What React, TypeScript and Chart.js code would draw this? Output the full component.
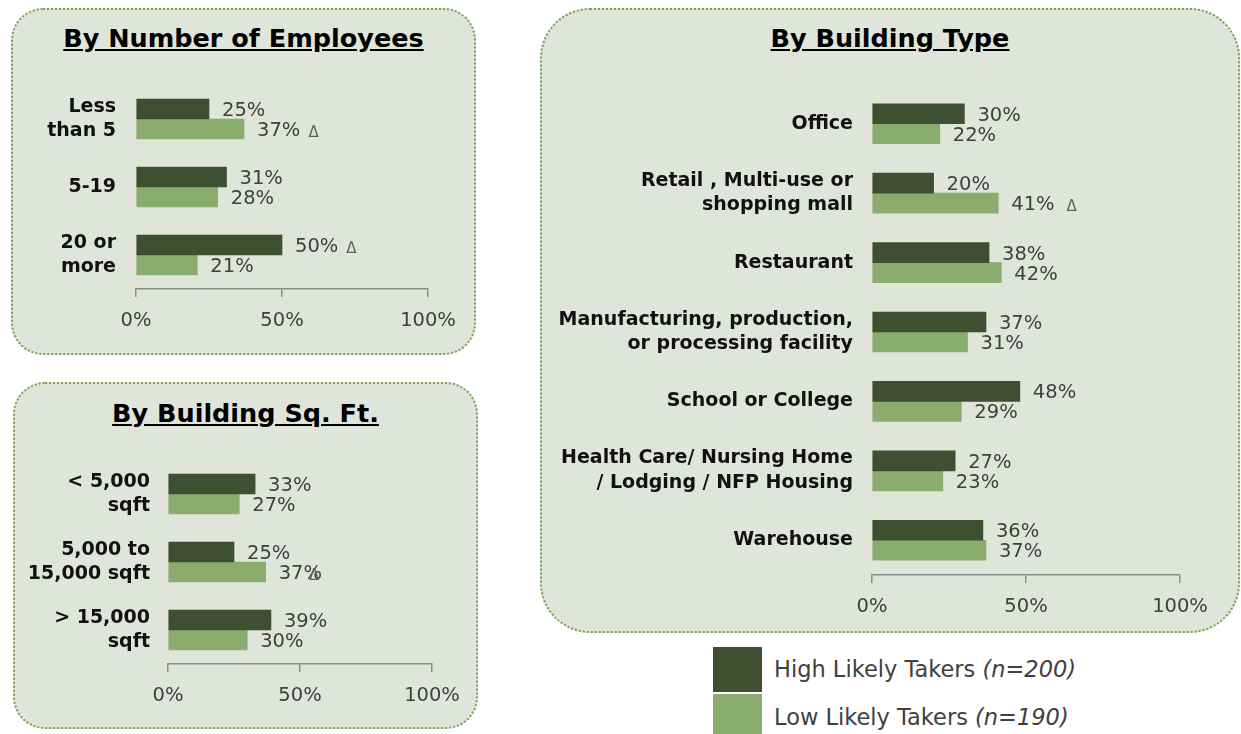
import React, { useEffect, useRef } from "react";
import { Chart, registerables } from "chart.js";

Chart.register(...registerables);

// ---------- DATA ----------
const seriesNames = ["High Likely Takers", "Low Likely Takers"];
const seriesNotes = ["(n=200)", "(n=190)"];
const xTicks = [0, 50, 100];

const employeeTitle = "By Number of Employees";
const employeeCategories = [["Less", "than 5"], ["5-19"], ["20 or", "more"]];
const employeeHigh = [25, 31, 50];
const employeeLow = [37, 28, 21];
const employeeHighDelta = [false, false, true];
const employeeLowDelta = [true, false, false];

const sqftTitle = "By Building Sq. Ft.";
const sqftCategories = [["< 5,000", "sqft"], ["5,000 to", "15,000 sqft"], ["> 15,000", "sqft"]];
const sqftHigh = [33, 25, 39];
const sqftLow = [27, 37, 30];
const sqftHighDelta = [false, false, false];
const sqftLowDelta = [false, true, false];

const buildingTitle = "By Building Type";
const buildingCategories = [
  ["Office"],
  ["Retail , Multi-use or", "shopping mall"],
  ["Restaurant"],
  ["Manufacturing, production,", "or processing facility"],
  ["School or College"],
  ["Health Care/ Nursing Home", "/ Lodging / NFP Housing"],
  ["Warehouse"],
];
const buildingHigh = [30, 20, 38, 37, 48, 27, 36];
const buildingLow = [22, 41, 42, 31, 29, 23, 37];
const buildingHighDelta = [false, false, false, false, false, false, false];
const buildingLowDelta = [false, true, false, false, false, false, false];

// ---------- STYLE ----------
const DARK = "#3f4f31";
const LIGHT = "#8aac6e";
const PANEL_BG = "#dfe6d9";
const PANEL_BORDER = "#79a152";
const TEXT_GRAY = "#404040";
const AXIS_GRAY = "#8c8c8c";
const FONT = "'DejaVu Sans', Verdana, sans-serif";

type Box = { left: number; top: number; width: number; height: number; radius: number };
type Area = { left: number; top: number; right: number; bottom: number };
type PanelSpec = {
  title: string;
  titleTop: number;
  box: Box;
  area: Area;
  categories: string[][];
  high: number[];
  low: number[];
  highDelta: boolean[];
  lowDelta: boolean[];
  labelGap: number;
  deltaGap: number;
};

const panels: PanelSpec[] = [
  {
    title: employeeTitle,
    titleTop: 23,
    box: { left: 11, top: 8, width: 465, height: 347, radius: 32 },
    area: { left: 136, top: 85, right: 428, bottom: 289 },
    categories: employeeCategories,
    high: employeeHigh,
    low: employeeLow,
    highDelta: employeeHighDelta,
    lowDelta: employeeLowDelta,
    labelGap: 20,
    deltaGap: 8,
  },
  {
    title: sqftTitle,
    titleTop: 398,
    box: { left: 13, top: 382, width: 465, height: 347, radius: 32 },
    area: { left: 168, top: 460, right: 432, bottom: 664 },
    categories: sqftCategories,
    high: sqftHigh,
    low: sqftLow,
    highDelta: sqftHighDelta,
    lowDelta: sqftLowDelta,
    labelGap: 18,
    deltaGap: -13,
  },
  {
    title: buildingTitle,
    titleTop: 23,
    box: { left: 540, top: 8, width: 700, height: 625, radius: 50 },
    area: { left: 872, top: 89, right: 1180, bottom: 575 },
    categories: buildingCategories,
    high: buildingHigh,
    low: buildingLow,
    highDelta: buildingHighDelta,
    lowDelta: buildingLowDelta,
    labelGap: 19,
    deltaGap: 12,
  },
];

const valueLabelPlugin = {
  id: "valueLabels",
  afterDatasetsDraw(chart: any, _args: any, opts: any) {
    const ctx = chart.ctx as CanvasRenderingContext2D;
    ctx.save();
    chart.data.datasets.forEach((ds: any, di: number) => {
      const meta = chart.getDatasetMeta(di);
      const flags: boolean[] = ds.deltaFlags || [];
      meta.data.forEach((bar: any, i: number) => {
        const text = ds.data[i] + "%";
        const x = bar.x + 13;
        const y = bar.y + 2;
        ctx.font = `19.5px ${FONT}`;
        ctx.fillStyle = TEXT_GRAY;
        ctx.textAlign = "left";
        ctx.textBaseline = "middle";
        ctx.fillText(text, x, y);
        if (flags[i]) {
          const w = ctx.measureText(text).width;
          ctx.font = `15px ${FONT}`;
          ctx.fillStyle = "#5f5f5f";
          ctx.fillText("\u0394", x + w + (opts.deltaGap || 0), y + 2);
        }
      });
    });
    ctx.restore();
  },
};

function PanelChart({ spec }: { spec: PanelSpec }) {
  const ref = useRef<HTMLCanvasElement>(null);
  useEffect(() => {
    const canvas = ref.current!;
    const { box, area } = spec;
    const chart = new Chart(canvas, {
      type: "bar",
      data: {
        labels: spec.categories as any,
        datasets: [
          {
            label: seriesNames[0],
            data: spec.high,
            backgroundColor: DARK,
            barThickness: 20,
            borderWidth: 0,
            deltaFlags: spec.highDelta,
          } as any,
          {
            label: seriesNames[1],
            data: spec.low,
            backgroundColor: LIGHT,
            barThickness: 20,
            borderWidth: 0,
            deltaFlags: spec.lowDelta,
          } as any,
        ],
      },
      options: {
        indexAxis: "y",
        animation: false,
        responsive: false,
        maintainAspectRatio: false,
        devicePixelRatio: 1,
        layout: {
          padding: {
            top: area.top - box.top,
            right: box.left + box.width - area.right,
            left: 0,
            bottom: 0,
          },
        },
        plugins: {
          legend: { display: false },
          tooltip: { enabled: false },
          title: { display: false },
          valueLabels: { deltaGap: spec.deltaGap },
        } as any,
        scales: {
          x: {
            type: "linear",
            min: 0,
            max: 100,
            afterBuildTicks: (s: any) => {
              s.ticks = xTicks.map((v) => ({ value: v }));
            },
            ticks: {
              callback: (v: any) => v + "%",
              font: { family: FONT, size: 19.5 },
              color: TEXT_GRAY,
              padding: 12,
              maxRotation: 0,
              autoSkip: false,
            },
            grid: {
              display: true,
              drawOnChartArea: false,
              drawTicks: true,
              tickLength: 8,
              color: AXIS_GRAY,
              lineWidth: 1.5,
            },
            border: { display: true, color: AXIS_GRAY, width: 1.5 },
            afterFit: (s: any) => {
              s.height = box.top + box.height - area.bottom;
            },
          },
          y: {
            type: "category",
            ticks: {
              font: { family: FONT, size: 19, weight: "bold", lineHeight: 1.3 },
              color: "#111111",
              padding: spec.labelGap,
              autoSkip: false,
            },
            grid: { display: false, drawTicks: false },
            border: { display: false },
            afterFit: (s: any) => {
              s.width = area.left - box.left;
            },
          },
        } as any,
      },
      plugins: [valueLabelPlugin as any],
    });
    return () => chart.destroy();
  }, [spec]);

  const { box } = spec;
  return (
    <>
      <div
        style={{
          position: "absolute",
          left: box.left,
          top: box.top,
          width: box.width,
          height: box.height,
          boxSizing: "border-box",
          background: PANEL_BG,
          border: `2px dotted ${PANEL_BORDER}`,
          borderRadius: box.radius,
        }}
      />
      <div
        style={{
          position: "absolute",
          left: box.left,
          top: spec.titleTop,
          width: box.width,
          textAlign: "center",
          fontFamily: FONT,
          fontWeight: "bold",
          fontSize: 25.5,
          lineHeight: "30px",
          color: "#000",
          whiteSpace: "nowrap",
        }}
      >
        <span style={{ textDecoration: "underline" }}>{spec.title}</span>
      </div>
      <canvas
        ref={ref}
        width={box.width}
        height={box.height}
        style={{ position: "absolute", left: box.left, top: box.top, width: box.width, height: box.height }}
      />
    </>
  );
}

function Legend() {
  const rows = [
    { color: DARK, top: 647, h: 45, textTop: 656 },
    { color: LIGHT, top: 694, h: 45, textTop: 704 },
  ];
  return (
    <>
      {rows.map((r, i) => (
        <React.Fragment key={i}>
          <div style={{ position: "absolute", left: 713, top: r.top, width: 49, height: r.h, background: r.color }} />
          <div
            style={{
              position: "absolute",
              left: 774,
              top: r.textTop,
              fontFamily: FONT,
              fontSize: 22.5,
              lineHeight: "27px",
              color: TEXT_GRAY,
              whiteSpace: "nowrap",
            }}
          >
            {seriesNames[i]} <i>{seriesNotes[i]}</i>
          </div>
        </React.Fragment>
      ))}
    </>
  );
}

export default function App() {
  return (
    <div
      style={{
        position: "fixed",
        left: 0,
        top: 0,
        width: 1241,
        height: 734,
        overflow: "hidden",
        background: "#ffffff",
      }}
    >
      {panels.map((p, i) => (
        <PanelChart key={i} spec={p} />
      ))}
      <Legend />
    </div>
  );
}
